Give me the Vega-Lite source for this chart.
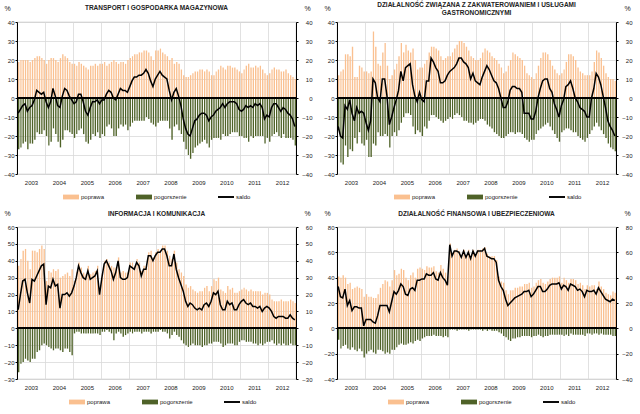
{
"$schema":"https://vega.github.io/schema/vega-lite/v6.json",
"padding":{"left":3,"top":1,"right":3,"bottom":3},
"config":{"font":"Liberation Sans","view":{"stroke":"#a6a6a6","strokeWidth":0.8},"title":{"fontSize":6.5,"fontWeight":"bold","color":"#222","anchor":"middle","lineHeight":8}},
"datasets":{
"t":[
{"d":"2003-01","p":19,"n":-27,"s":-8},{"d":"2003-02","p":20,"n":-26,"s":-6},{"d":"2003-03","p":20,"n":-24,"s":-4},{"d":"2003-04","p":20,"n":-23,"s":-3},{"d":"2003-05","p":20,"n":-27,"s":-7},{"d":"2003-06","p":19,"n":-24,"s":-5},{"d":"2003-07","p":20,"n":-24,"s":-4},{"d":"2003-08","p":21,"n":-22,"s":-1},{"d":"2003-09","p":22,"n":-18,"s":4},{"d":"2003-10","p":22,"n":-19,"s":3},{"d":"2003-11","p":21,"n":-19,"s":2},{"d":"2003-12","p":20,"n":-17,"s":3},
{"d":"2004-01","p":18,"n":-20,"s":-2},{"d":"2004-02","p":20,"n":-25,"s":-5},{"d":"2004-03","p":21,"n":-23,"s":-2},{"d":"2004-04","p":21,"n":-16,"s":5},{"d":"2004-05","p":20,"n":-19,"s":1},{"d":"2004-06","p":19,"n":-23,"s":-4},{"d":"2004-07","p":21,"n":-26,"s":-5},{"d":"2004-08","p":23,"n":-22,"s":1},{"d":"2004-09","p":22,"n":-17,"s":5},{"d":"2004-10","p":21,"n":-17,"s":4},{"d":"2004-11","p":19,"n":-18,"s":1},{"d":"2004-12","p":18,"n":-19,"s":-1},
{"d":"2005-01","p":18,"n":-21,"s":-3},{"d":"2005-02","p":17,"n":-19,"s":-2},{"d":"2005-03","p":19,"n":-17,"s":2},{"d":"2005-04","p":18,"n":-16,"s":2},{"d":"2005-05","p":17,"n":-19,"s":-2},{"d":"2005-06","p":16,"n":-23,"s":-7},{"d":"2005-07","p":15,"n":-24,"s":-9},{"d":"2005-08","p":17,"n":-22,"s":-5},{"d":"2005-09","p":17,"n":-19,"s":-2},{"d":"2005-10","p":18,"n":-20,"s":-2},{"d":"2005-11","p":17,"n":-18,"s":-1},{"d":"2005-12","p":18,"n":-21,"s":-3},
{"d":"2006-01","p":18,"n":-19,"s":-1},{"d":"2006-02","p":19,"n":-20,"s":-1},{"d":"2006-03","p":17,"n":-15,"s":2},{"d":"2006-04","p":18,"n":-14,"s":4},{"d":"2006-05","p":19,"n":-16,"s":3},{"d":"2006-06","p":20,"n":-20,"s":0},{"d":"2006-07","p":19,"n":-20,"s":-1},{"d":"2006-08","p":18,"n":-16,"s":2},{"d":"2006-09","p":19,"n":-14,"s":5},{"d":"2006-10","p":19,"n":-15,"s":4},{"d":"2006-11","p":18,"n":-14,"s":4},{"d":"2006-12","p":20,"n":-17,"s":3},
{"d":"2007-01","p":21,"n":-15,"s":6},{"d":"2007-02","p":22,"n":-13,"s":9},{"d":"2007-03","p":23,"n":-12,"s":11},{"d":"2007-04","p":23,"n":-12,"s":11},{"d":"2007-05","p":24,"n":-12,"s":12},{"d":"2007-06","p":24,"n":-12,"s":12},{"d":"2007-07","p":25,"n":-12,"s":13},{"d":"2007-08","p":25,"n":-10,"s":15},{"d":"2007-09","p":24,"n":-11,"s":13},{"d":"2007-10","p":22,"n":-13,"s":9},{"d":"2007-11","p":20,"n":-14,"s":6},{"d":"2007-12","p":25,"n":-15,"s":10},
{"d":"2008-01","p":25,"n":-13,"s":12},{"d":"2008-02","p":26,"n":-12,"s":14},{"d":"2008-03","p":24,"n":-12,"s":12},{"d":"2008-04","p":23,"n":-12,"s":11},{"d":"2008-05","p":22,"n":-12,"s":10},{"d":"2008-06","p":20,"n":-16,"s":4},{"d":"2008-07","p":21,"n":-22,"s":-1},{"d":"2008-08","p":18,"n":-15,"s":3},{"d":"2008-09","p":19,"n":-14,"s":5},{"d":"2008-10","p":18,"n":-17,"s":1},{"d":"2008-11","p":15,"n":-19,"s":-4},{"d":"2008-12","p":12,"n":-23,"s":-11},
{"d":"2009-01","p":11,"n":-27,"s":-16},{"d":"2009-02","p":11,"n":-30,"s":-19},{"d":"2009-03","p":12,"n":-32,"s":-20},{"d":"2009-04","p":13,"n":-29,"s":-16},{"d":"2009-05","p":14,"n":-26,"s":-12},{"d":"2009-06","p":14,"n":-25,"s":-11},{"d":"2009-07","p":15,"n":-24,"s":-9},{"d":"2009-08","p":15,"n":-23,"s":-8},{"d":"2009-09","p":14,"n":-22,"s":-8},{"d":"2009-10","p":15,"n":-24,"s":-9},{"d":"2009-11","p":14,"n":-26,"s":-12},{"d":"2009-12","p":12,"n":-22,"s":-10},
{"d":"2010-01","p":12,"n":-21,"s":-9},{"d":"2010-02","p":14,"n":-21,"s":-7},{"d":"2010-03","p":15,"n":-21,"s":-6},{"d":"2010-04","p":17,"n":-22,"s":-5},{"d":"2010-05","p":16,"n":-19,"s":-3},{"d":"2010-06","p":15,"n":-20,"s":-5},{"d":"2010-07","p":17,"n":-20,"s":-3},{"d":"2010-08","p":17,"n":-19,"s":-2},{"d":"2010-09","p":16,"n":-18,"s":-2},{"d":"2010-10","p":16,"n":-18,"s":-2},{"d":"2010-11","p":15,"n":-18,"s":-3},{"d":"2010-12","p":14,"n":-20,"s":-6},
{"d":"2011-01","p":13,"n":-20,"s":-7},{"d":"2011-02","p":15,"n":-21,"s":-6},{"d":"2011-03","p":17,"n":-21,"s":-4},{"d":"2011-04","p":18,"n":-23,"s":-5},{"d":"2011-05","p":16,"n":-20,"s":-4},{"d":"2011-06","p":16,"n":-21,"s":-5},{"d":"2011-07","p":17,"n":-20,"s":-3},{"d":"2011-08","p":16,"n":-20,"s":-4},{"d":"2011-09","p":17,"n":-20,"s":-3},{"d":"2011-10","p":15,"n":-20,"s":-5},{"d":"2011-11","p":13,"n":-24,"s":-11},{"d":"2011-12","p":12,"n":-21,"s":-9},
{"d":"2012-01","p":13,"n":-23,"s":-10},{"d":"2012-02","p":15,"n":-20,"s":-5},{"d":"2012-03","p":16,"n":-19,"s":-3},{"d":"2012-04","p":15,"n":-18,"s":-3},{"d":"2012-05","p":15,"n":-20,"s":-5},{"d":"2012-06","p":14,"n":-21,"s":-7},{"d":"2012-07","p":14,"n":-19,"s":-5},{"d":"2012-08","p":15,"n":-21,"s":-6},{"d":"2012-09","p":13,"n":-21,"s":-8},{"d":"2012-10","p":12,"n":-21,"s":-9},{"d":"2012-11","p":11,"n":-22,"s":-11},{"d":"2012-12","p":10,"n":-25,"s":-15}
],
"z":[
{"d":"2003-01","p":12,"n":-17,"s":-15},{"d":"2003-02","p":14,"n":-34,"s":-20},{"d":"2003-03","p":15,"n":-35,"s":-21},{"d":"2003-04","p":23,"n":-25,"s":-4},{"d":"2003-05","p":23,"n":-31,"s":-6},{"d":"2003-06","p":22,"n":-27,"s":-1},{"d":"2003-07","p":27,"n":-28,"s":-8},{"d":"2003-08","p":11,"n":-21,"s":-12},{"d":"2003-09","p":11,"n":-24,"s":-5},{"d":"2003-10","p":17,"n":-18,"s":-8},{"d":"2003-11","p":16,"n":-24,"s":-7},{"d":"2003-12","p":14,"n":-25,"s":-8},
{"d":"2004-01","p":14,"n":-22,"s":-13},{"d":"2004-02","p":13,"n":-31,"s":-17},{"d":"2004-03","p":14,"n":-31,"s":-12},{"d":"2004-04","p":35,"n":-24,"s":10},{"d":"2004-05","p":27,"n":-25,"s":8},{"d":"2004-06","p":18,"n":-18,"s":0},{"d":"2004-07","p":17,"n":-20,"s":-2},{"d":"2004-08","p":24,"n":-20,"s":10},{"d":"2004-09","p":29,"n":-19,"s":10},{"d":"2004-10","p":17,"n":-20,"s":1},{"d":"2004-11","p":10,"n":-26,"s":-14},{"d":"2004-12","p":12,"n":-20,"s":-10},
{"d":"2005-01","p":15,"n":-18,"s":-5},{"d":"2005-02","p":18,"n":-20,"s":-1},{"d":"2005-03","p":22,"n":-17,"s":4},{"d":"2005-04","p":29,"n":-13,"s":14},{"d":"2005-05","p":24,"n":-10,"s":9},{"d":"2005-06","p":28,"n":-8,"s":16},{"d":"2005-07","p":25,"n":-8,"s":17},{"d":"2005-08","p":24,"n":-9,"s":18},{"d":"2005-09","p":26,"n":-15,"s":7},{"d":"2005-10","p":20,"n":-19,"s":1},{"d":"2005-11","p":15,"n":-17,"s":-2},{"d":"2005-12","p":16,"n":-18,"s":3},
{"d":"2006-01","p":16,"n":-20,"s":-1},{"d":"2006-02","p":18,"n":-15,"s":-2},{"d":"2006-03","p":20,"n":-16,"s":9},{"d":"2006-04","p":24,"n":-12,"s":9},{"d":"2006-05","p":27,"n":-9,"s":21},{"d":"2006-06","p":27,"n":-9,"s":19},{"d":"2006-07","p":26,"n":-10,"s":16},{"d":"2006-08","p":25,"n":-11,"s":14},{"d":"2006-09","p":22,"n":-12,"s":8},{"d":"2006-10","p":20,"n":-13,"s":8},{"d":"2006-11","p":21,"n":-12,"s":9},{"d":"2006-12","p":22,"n":-11,"s":12},
{"d":"2007-01","p":22,"n":-10,"s":14},{"d":"2007-02","p":24,"n":-11,"s":15},{"d":"2007-03","p":26,"n":-9,"s":16},{"d":"2007-04","p":28,"n":-8,"s":18},{"d":"2007-05","p":30,"n":-9,"s":21},{"d":"2007-06","p":30,"n":-10,"s":21},{"d":"2007-07","p":29,"n":-12,"s":19},{"d":"2007-08","p":27,"n":-12,"s":18},{"d":"2007-09","p":25,"n":-13,"s":16},{"d":"2007-10","p":22,"n":-13,"s":10},{"d":"2007-11","p":21,"n":-14,"s":13},{"d":"2007-12","p":20,"n":-13,"s":9},
{"d":"2008-01","p":20,"n":-12,"s":8},{"d":"2008-02","p":21,"n":-11,"s":7},{"d":"2008-03","p":24,"n":-11,"s":11},{"d":"2008-04","p":26,"n":-12,"s":14},{"d":"2008-05","p":25,"n":-14,"s":17},{"d":"2008-06","p":24,"n":-15,"s":15},{"d":"2008-07","p":22,"n":-16,"s":12},{"d":"2008-08","p":21,"n":-18,"s":9},{"d":"2008-09","p":20,"n":-19,"s":8},{"d":"2008-10","p":18,"n":-20,"s":5},{"d":"2008-11","p":16,"n":-21,"s":0},{"d":"2008-12","p":13,"n":-21,"s":-5},
{"d":"2009-01","p":14,"n":-20,"s":-5},{"d":"2009-02","p":17,"n":-19,"s":-2},{"d":"2009-03","p":20,"n":-18,"s":4},{"d":"2009-04","p":24,"n":-18,"s":6},{"d":"2009-05","p":23,"n":-19,"s":6},{"d":"2009-06","p":22,"n":-18,"s":5},{"d":"2009-07","p":21,"n":-18,"s":5},{"d":"2009-08","p":20,"n":-19,"s":3},{"d":"2009-09","p":17,"n":-21,"s":-8},{"d":"2009-10","p":13,"n":-22,"s":-8},{"d":"2009-11","p":12,"n":-23,"s":-8},{"d":"2009-12","p":11,"n":-22,"s":-11},
{"d":"2010-01","p":10,"n":-22,"s":-11},{"d":"2010-02","p":13,"n":-19,"s":-7},{"d":"2010-03","p":17,"n":-17,"s":0},{"d":"2010-04","p":21,"n":-16,"s":5},{"d":"2010-05","p":24,"n":-15,"s":9},{"d":"2010-06","p":24,"n":-14,"s":10},{"d":"2010-07","p":23,"n":-13,"s":10},{"d":"2010-08","p":20,"n":-15,"s":5},{"d":"2010-09","p":17,"n":-17,"s":3},{"d":"2010-10","p":15,"n":-19,"s":-3},{"d":"2010-11","p":13,"n":-21,"s":-6},{"d":"2010-12","p":12,"n":-23,"s":-10},
{"d":"2011-01","p":13,"n":-18,"s":-4},{"d":"2011-02","p":15,"n":-17,"s":-1},{"d":"2011-03","p":19,"n":-16,"s":6},{"d":"2011-04","p":23,"n":-16,"s":7},{"d":"2011-05","p":23,"n":-17,"s":9},{"d":"2011-06","p":22,"n":-18,"s":5},{"d":"2011-07","p":20,"n":-18,"s":0},{"d":"2011-08","p":16,"n":-20,"s":-2},{"d":"2011-09","p":14,"n":-21,"s":-5},{"d":"2011-10","p":13,"n":-22,"s":-6},{"d":"2011-11","p":12,"n":-23,"s":-7},{"d":"2011-12","p":12,"n":-21,"s":-10},
{"d":"2012-01","p":12,"n":-19,"s":-10},{"d":"2012-02","p":14,"n":-17,"s":0},{"d":"2012-03","p":19,"n":-15,"s":5},{"d":"2012-04","p":25,"n":-13,"s":13},{"d":"2012-05","p":24,"n":-15,"s":11},{"d":"2012-06","p":21,"n":-17,"s":7},{"d":"2012-07","p":17,"n":-19,"s":1},{"d":"2012-08","p":13,"n":-21,"s":-5},{"d":"2012-09","p":11,"n":-24,"s":-12},{"d":"2012-10","p":10,"n":-26,"s":-15},{"d":"2012-11","p":10,"n":-27,"s":-17},{"d":"2012-12","p":9,"n":-28,"s":-20}
],
"i":[
{"d":"2003-01","p":37,"n":-26,"s":11},{"d":"2003-02","p":41,"n":-21,"s":20},{"d":"2003-03","p":46,"n":-20,"s":28},{"d":"2003-04","p":47,"n":-18,"s":29},{"d":"2003-05","p":40,"n":-19,"s":21},{"d":"2003-06","p":35,"n":-20,"s":15},{"d":"2003-07","p":46,"n":-18,"s":29},{"d":"2003-08","p":46,"n":-18,"s":28},{"d":"2003-09","p":45,"n":-14,"s":31},{"d":"2003-10","p":47,"n":-13,"s":34},{"d":"2003-11","p":49,"n":-10,"s":37},{"d":"2003-12","p":47,"n":-9,"s":38},
{"d":"2004-01","p":28,"n":-10,"s":14},{"d":"2004-02","p":34,"n":-11,"s":25},{"d":"2004-03","p":33,"n":-12,"s":24},{"d":"2004-04","p":35,"n":-13,"s":29},{"d":"2004-05","p":34,"n":-12,"s":25},{"d":"2004-06","p":35,"n":-12,"s":26},{"d":"2004-07","p":30,"n":-13,"s":12},{"d":"2004-08","p":31,"n":-14,"s":20},{"d":"2004-09","p":32,"n":-12,"s":20},{"d":"2004-10","p":33,"n":-12,"s":21},{"d":"2004-11","p":31,"n":-14,"s":19},{"d":"2004-12","p":35,"n":-16,"s":21},
{"d":"2005-01","p":28,"n":-3,"s":25},{"d":"2005-02","p":33,"n":-2,"s":30},{"d":"2005-03","p":39,"n":-2,"s":37},{"d":"2005-04","p":36,"n":-3,"s":33},{"d":"2005-05","p":33,"n":-3,"s":30},{"d":"2005-06","p":32,"n":-3,"s":29},{"d":"2005-07","p":37,"n":-3,"s":34},{"d":"2005-08","p":32,"n":-3,"s":29},{"d":"2005-09","p":33,"n":-3,"s":30},{"d":"2005-10","p":34,"n":-3,"s":31},{"d":"2005-11","p":37,"n":-3,"s":34},{"d":"2005-12","p":24,"n":-4,"s":20},
{"d":"2006-01","p":32,"n":-2,"s":30},{"d":"2006-02","p":40,"n":-2,"s":38},{"d":"2006-03","p":41,"n":-1,"s":40},{"d":"2006-04","p":39,"n":-2,"s":37},{"d":"2006-05","p":37,"n":-3,"s":34},{"d":"2006-06","p":36,"n":-7,"s":29},{"d":"2006-07","p":36,"n":-3,"s":33},{"d":"2006-08","p":42,"n":-2,"s":40},{"d":"2006-09","p":33,"n":-3,"s":30},{"d":"2006-10","p":34,"n":-5,"s":29},{"d":"2006-11","p":33,"n":-4,"s":29},{"d":"2006-12","p":33,"n":-3,"s":30},
{"d":"2007-01","p":39,"n":-2,"s":37},{"d":"2007-02","p":39,"n":-3,"s":36},{"d":"2007-03","p":37,"n":-2,"s":35},{"d":"2007-04","p":41,"n":-2,"s":39},{"d":"2007-05","p":39,"n":-2,"s":37},{"d":"2007-06","p":34,"n":-3,"s":31},{"d":"2007-07","p":37,"n":-2,"s":35},{"d":"2007-08","p":37,"n":-2,"s":35},{"d":"2007-09","p":45,"n":-2,"s":43},{"d":"2007-10","p":46,"n":-3,"s":43},{"d":"2007-11","p":42,"n":-2,"s":40},{"d":"2007-12","p":45,"n":-2,"s":43},
{"d":"2008-01","p":47,"n":-2,"s":45},{"d":"2008-02","p":46,"n":-1,"s":45},{"d":"2008-03","p":49,"n":-2,"s":47},{"d":"2008-04","p":49,"n":-2,"s":47},{"d":"2008-05","p":46,"n":-3,"s":43},{"d":"2008-06","p":43,"n":-6,"s":37},{"d":"2008-07","p":41,"n":-4,"s":37},{"d":"2008-08","p":46,"n":-2,"s":44},{"d":"2008-09","p":39,"n":-4,"s":35},{"d":"2008-10","p":35,"n":-5,"s":30},{"d":"2008-11","p":33,"n":-7,"s":26},{"d":"2008-12","p":31,"n":-9,"s":22},
{"d":"2009-01","p":26,"n":-10,"s":16},{"d":"2009-02","p":24,"n":-11,"s":13},{"d":"2009-03","p":25,"n":-10,"s":15},{"d":"2009-04","p":23,"n":-9,"s":14},{"d":"2009-05","p":22,"n":-10,"s":12},{"d":"2009-06","p":21,"n":-10,"s":11},{"d":"2009-07","p":22,"n":-10,"s":12},{"d":"2009-08","p":22,"n":-11,"s":11},{"d":"2009-09","p":24,"n":-10,"s":14},{"d":"2009-10","p":25,"n":-10,"s":15},{"d":"2009-11","p":22,"n":-9,"s":13},{"d":"2009-12","p":25,"n":-9,"s":16},
{"d":"2010-01","p":29,"n":-8,"s":21},{"d":"2010-02","p":28,"n":-8,"s":20},{"d":"2010-03","p":30,"n":-8,"s":22},{"d":"2010-04","p":23,"n":-9,"s":14},{"d":"2010-05","p":22,"n":-11,"s":11},{"d":"2010-06","p":21,"n":-10,"s":11},{"d":"2010-07","p":25,"n":-9,"s":16},{"d":"2010-08","p":23,"n":-9,"s":14},{"d":"2010-09","p":24,"n":-9,"s":15},{"d":"2010-10","p":21,"n":-10,"s":11},{"d":"2010-11","p":21,"n":-10,"s":11},{"d":"2010-12","p":22,"n":-8,"s":14},
{"d":"2011-01","p":23,"n":-7,"s":16},{"d":"2011-02","p":24,"n":-7,"s":17},{"d":"2011-03","p":23,"n":-8,"s":15},{"d":"2011-04","p":22,"n":-8,"s":14},{"d":"2011-05","p":23,"n":-8,"s":15},{"d":"2011-06","p":22,"n":-9,"s":13},{"d":"2011-07","p":22,"n":-9,"s":13},{"d":"2011-08","p":22,"n":-10,"s":12},{"d":"2011-09","p":22,"n":-9,"s":13},{"d":"2011-10","p":20,"n":-10,"s":10},{"d":"2011-11","p":21,"n":-9,"s":12},{"d":"2011-12","p":21,"n":-8,"s":13},
{"d":"2012-01","p":20,"n":-8,"s":12},{"d":"2012-02","p":17,"n":-7,"s":10},{"d":"2012-03","p":16,"n":-9,"s":7},{"d":"2012-04","p":16,"n":-10,"s":6},{"d":"2012-05","p":16,"n":-9,"s":7},{"d":"2012-06","p":17,"n":-10,"s":7},{"d":"2012-07","p":16,"n":-9,"s":7},{"d":"2012-08","p":16,"n":-10,"s":6},{"d":"2012-09","p":16,"n":-10,"s":6},{"d":"2012-10","p":17,"n":-9,"s":8},{"d":"2012-11","p":16,"n":-10,"s":6},{"d":"2012-12","p":15,"n":-10,"s":5}
],
"f":[
{"d":"2003-01","p":41,"n":-9,"s":33},{"d":"2003-02","p":40,"n":-16,"s":25},{"d":"2003-03","p":42,"n":-14,"s":24},{"d":"2003-04","p":40,"n":-13,"s":31},{"d":"2003-05","p":35,"n":-16,"s":18},{"d":"2003-06","p":36,"n":-17,"s":22},{"d":"2003-07","p":31,"n":-15,"s":14},{"d":"2003-08","p":32,"n":-17,"s":17},{"d":"2003-09","p":33,"n":-18,"s":17},{"d":"2003-10","p":32,"n":-16,"s":16},{"d":"2003-11","p":31,"n":-18,"s":16},{"d":"2003-12","p":25,"n":-23,"s":2},
{"d":"2004-01","p":27,"n":-20,"s":7},{"d":"2004-02","p":25,"n":-18,"s":7},{"d":"2004-03","p":25,"n":-17,"s":7},{"d":"2004-04","p":24,"n":-19,"s":5},{"d":"2004-05","p":24,"n":-20,"s":4},{"d":"2004-06","p":27,"n":-17,"s":10},{"d":"2004-07","p":32,"n":-17,"s":18},{"d":"2004-08","p":35,"n":-18,"s":18},{"d":"2004-09","p":38,"n":-20,"s":18},{"d":"2004-10","p":37,"n":-19,"s":18},{"d":"2004-11","p":33,"n":-20,"s":13},{"d":"2004-12","p":38,"n":-17,"s":21},
{"d":"2005-01","p":46,"n":-17,"s":29},{"d":"2005-02","p":42,"n":-15,"s":27},{"d":"2005-03","p":43,"n":-13,"s":30},{"d":"2005-04","p":47,"n":-12,"s":35},{"d":"2005-05","p":46,"n":-13,"s":33},{"d":"2005-06","p":40,"n":-13,"s":27},{"d":"2005-07","p":38,"n":-12,"s":26},{"d":"2005-08","p":42,"n":-11,"s":31},{"d":"2005-09","p":44,"n":-12,"s":32},{"d":"2005-10","p":40,"n":-10,"s":30},{"d":"2005-11","p":47,"n":-9,"s":38},{"d":"2005-12","p":48,"n":-10,"s":38},
{"d":"2006-01","p":47,"n":-8,"s":39},{"d":"2006-02","p":46,"n":-7,"s":39},{"d":"2006-03","p":49,"n":-6,"s":43},{"d":"2006-04","p":48,"n":-6,"s":42},{"d":"2006-05","p":48,"n":-6,"s":42},{"d":"2006-06","p":49,"n":-5,"s":44},{"d":"2006-07","p":45,"n":-6,"s":39},{"d":"2006-08","p":44,"n":-6,"s":38},{"d":"2006-09","p":50,"n":-6,"s":44},{"d":"2006-10","p":47,"n":-7,"s":40},{"d":"2006-11","p":44,"n":-6,"s":38},{"d":"2006-12","p":41,"n":-7,"s":34},
{"d":"2007-01","p":67,"n":-1,"s":66},{"d":"2007-02","p":58,"n":-1,"s":57},{"d":"2007-03","p":62,"n":-1,"s":61},{"d":"2007-04","p":63,"n":-2,"s":61},{"d":"2007-05","p":61,"n":-1,"s":60},{"d":"2007-06","p":57,"n":-1,"s":56},{"d":"2007-07","p":62,"n":-1,"s":61},{"d":"2007-08","p":57,"n":-1,"s":56},{"d":"2007-09","p":62,"n":-2,"s":60},{"d":"2007-10","p":56,"n":-1,"s":55},{"d":"2007-11","p":62,"n":-1,"s":61},{"d":"2007-12","p":58,"n":-1,"s":57},
{"d":"2008-01","p":62,"n":-1,"s":61},{"d":"2008-02","p":62,"n":-1,"s":61},{"d":"2008-03","p":63,"n":-2,"s":61},{"d":"2008-04","p":64,"n":-1,"s":63},{"d":"2008-05","p":59,"n":-2,"s":57},{"d":"2008-06","p":57,"n":-1,"s":56},{"d":"2008-07","p":57,"n":-2,"s":55},{"d":"2008-08","p":57,"n":-2,"s":55},{"d":"2008-09","p":54,"n":-2,"s":52},{"d":"2008-10","p":41,"n":-3,"s":38},{"d":"2008-11","p":37,"n":-4,"s":33},{"d":"2008-12","p":36,"n":-6,"s":30},
{"d":"2009-01","p":30,"n":-7,"s":23},{"d":"2009-02","p":27,"n":-9,"s":18},{"d":"2009-03","p":30,"n":-10,"s":20},{"d":"2009-04","p":30,"n":-8,"s":22},{"d":"2009-05","p":32,"n":-8,"s":24},{"d":"2009-06","p":32,"n":-7,"s":25},{"d":"2009-07","p":33,"n":-7,"s":26},{"d":"2009-08","p":33,"n":-6,"s":27},{"d":"2009-09","p":35,"n":-6,"s":29},{"d":"2009-10","p":35,"n":-6,"s":29},{"d":"2009-11","p":36,"n":-6,"s":30},{"d":"2009-12","p":32,"n":-7,"s":25},
{"d":"2010-01","p":33,"n":-6,"s":27},{"d":"2010-02","p":36,"n":-6,"s":30},{"d":"2010-03","p":38,"n":-5,"s":33},{"d":"2010-04","p":39,"n":-6,"s":33},{"d":"2010-05","p":36,"n":-7,"s":29},{"d":"2010-06","p":35,"n":-6,"s":29},{"d":"2010-07","p":37,"n":-6,"s":31},{"d":"2010-08","p":39,"n":-5,"s":34},{"d":"2010-09","p":40,"n":-5,"s":35},{"d":"2010-10","p":40,"n":-5,"s":35},{"d":"2010-11","p":40,"n":-5,"s":35},{"d":"2010-12","p":41,"n":-5,"s":36},
{"d":"2011-01","p":36,"n":-5,"s":31},{"d":"2011-02","p":40,"n":-6,"s":34},{"d":"2011-03","p":38,"n":-5,"s":33},{"d":"2011-04","p":36,"n":-6,"s":30},{"d":"2011-05","p":39,"n":-4,"s":35},{"d":"2011-06","p":39,"n":-5,"s":34},{"d":"2011-07","p":38,"n":-5,"s":33},{"d":"2011-08","p":35,"n":-5,"s":30},{"d":"2011-09","p":36,"n":-5,"s":31},{"d":"2011-10","p":34,"n":-5,"s":29},{"d":"2011-11","p":31,"n":-6,"s":25},{"d":"2011-12","p":34,"n":-4,"s":30},
{"d":"2012-01","p":33,"n":-4,"s":29},{"d":"2012-02","p":34,"n":-5,"s":29},{"d":"2012-03","p":34,"n":-4,"s":30},{"d":"2012-04","p":31,"n":-4,"s":27},{"d":"2012-05","p":37,"n":-5,"s":32},{"d":"2012-06","p":33,"n":-4,"s":29},{"d":"2012-07","p":31,"n":-5,"s":26},{"d":"2012-08","p":28,"n":-5,"s":23},{"d":"2012-09","p":27,"n":-5,"s":22},{"d":"2012-10","p":26,"n":-5,"s":21},{"d":"2012-11","p":29,"n":-6,"s":23},{"d":"2012-12","p":28,"n":-6,"s":22}
]
},
"columns":2,
"spacing":{"row":53,"column":41},
"bounds":"flush",
"resolve":{"scale":{"color":"independent"},"legend":{"color":"independent"}},
"concat":[
{"title":{"text":"TRANSPORT I GOSPODARKA MAGAZYNOWA","offset":-7.5},"width":279,"height":152,"data":{"name":"t"},
"layer":[
{"mark":{"type":"bar","timeUnitBandSize":0.75},"encoding":{
"x":{"field":"d","timeUnit":"utcyearmonth","type":"temporal","title":null,"scale":{"domain":[{"year":2003,"month":1,"date":1,"utc":true},{"year":2013,"month":1,"date":1,"utc":true}]},"axis":{"tickCount":{"interval":"year","step":1},"labelExpr":"utcyear(datum.value) > 2012 ? '' : utcFormat(datum.value, '%Y')","labelOffset":14,"labelFlush":false,"labelOverlap":false,"labelFontSize":6,"labelColor":"#222","labelPadding":5,"grid":true,"gridColor":"#d9d9d9","gridWidth":0.8,"ticks":false,"domain":false}},
"y":{"field":"p","type":"quantitative","scale":{"domain":[-40,40],"nice":false},"axis":{"title":"%","titleAngle":0,"titleX":-10,"titleY":-14,"titleAlign":"center","titleBaseline":"middle","titleFontSize":7,"titleFontWeight":"normal","titleColor":"#222","values":[-40,-30,-20,-10,0,10,20,30,40],"labelFontSize":6,"labelColor":"#222","tickSize":2,"labelPadding":1,"domainColor":"#000","tickColor":"#000","grid":true,"gridColor":"#d9d9d9","gridWidth":0.8}},
"color":{"datum":"poprawa","type":"nominal","scale":{"domain":["poprawa","pogorszenie","saldo"],"range":["#FAC090","#4F6228","#000000"]},"legend":{"orient":"none","legendX":46,"legendY":167,"direction":"horizontal","title":null,"labelFontSize":6,"labelColor":"#222","symbolSize":256,"columnPadding":31,"labelOffset":2,"encode":{"symbols":{"update":{"shape":{"signal":"datum.value === 'saldo' ? 'M-1,-0.12L1,-0.12L1,0.12L-1,0.12Z' : 'M-1,-0.3L1,-0.3L1,0.3L-1,0.3Z'"},"fill":{"signal":"datum.value === 'poprawa' ? '#FAC090' : datum.value === 'pogorszenie' ? '#4F6228' : '#000000'"},"strokeWidth":{"value":0},"opacity":{"value":1}}}}}}}},
{"mark":{"type":"bar","timeUnitBandSize":0.75},"encoding":{"x":{"field":"d","timeUnit":"utcyearmonth","type":"temporal"},"y":{"field":"n","type":"quantitative","axis":null},"color":{"datum":"pogorszenie","type":"nominal"}}},
{"mark":{"type":"rule","color":"#000","strokeWidth":1.5},"encoding":{"y":{"datum":0,"type":"quantitative","axis":null}}},
{"mark":{"type":"line","strokeWidth":1.5},"encoding":{"x":{"field":"d","timeUnit":"utcyearmonth","type":"temporal","bandPosition":0.5},"y":{"field":"s","type":"quantitative","axis":{"orient":"right","title":"%","titleAngle":0,"titleX":11,"titleY":-14,"titleAlign":"center","titleBaseline":"middle","titleFontSize":7,"titleFontWeight":"normal","titleColor":"#222","values":[-40,-30,-20,-10,0,10,20,30,40],"labelFontSize":6,"labelColor":"#222","tickSize":2,"labelPadding":14,"labelAlign":"right","domainColor":"#000","tickColor":"#000","grid":false}},"color":{"datum":"saldo","type":"nominal"}}}
],
"resolve":{"axis":{"y":"independent"}}},
{"title":{"text":["DZIAŁALNOŚĆ ZWIĄZANA Z ZAKWATEROWANIEM I USŁUGAMI","GASTRONOMICZNYMI"],"offset":-12},"width":279,"height":152,"data":{"name":"z"},
"layer":[
{"mark":{"type":"bar","timeUnitBandSize":0.75},"encoding":{
"x":{"field":"d","timeUnit":"utcyearmonth","type":"temporal","title":null,"scale":{"domain":[{"year":2003,"month":1,"date":1,"utc":true},{"year":2013,"month":1,"date":1,"utc":true}]},"axis":{"tickCount":{"interval":"year","step":1},"labelExpr":"utcyear(datum.value) > 2012 ? '' : utcFormat(datum.value, '%Y')","labelOffset":14,"labelFlush":false,"labelOverlap":false,"labelFontSize":6,"labelColor":"#222","labelPadding":5,"grid":true,"gridColor":"#d9d9d9","gridWidth":0.8,"ticks":false,"domain":false}},
"y":{"field":"p","type":"quantitative","scale":{"domain":[-40,40],"nice":false},"axis":{"title":"%","titleAngle":0,"titleX":-10,"titleY":-14,"titleAlign":"center","titleBaseline":"middle","titleFontSize":7,"titleFontWeight":"normal","titleColor":"#222","values":[-40,-30,-20,-10,0,10,20,30,40],"labelFontSize":6,"labelColor":"#222","tickSize":2,"labelPadding":1,"domainColor":"#000","tickColor":"#000","grid":true,"gridColor":"#d9d9d9","gridWidth":0.8}},
"color":{"datum":"poprawa","type":"nominal","scale":{"domain":["poprawa","pogorszenie","saldo"],"range":["#FAC090","#4F6228","#000000"]},"legend":{"orient":"none","legendX":57,"legendY":167,"direction":"horizontal","title":null,"labelFontSize":6,"labelColor":"#222","symbolSize":256,"columnPadding":31,"labelOffset":2,"encode":{"symbols":{"update":{"shape":{"signal":"datum.value === 'saldo' ? 'M-1,-0.12L1,-0.12L1,0.12L-1,0.12Z' : 'M-1,-0.3L1,-0.3L1,0.3L-1,0.3Z'"},"fill":{"signal":"datum.value === 'poprawa' ? '#FAC090' : datum.value === 'pogorszenie' ? '#4F6228' : '#000000'"},"strokeWidth":{"value":0},"opacity":{"value":1}}}}}}}},
{"mark":{"type":"bar","timeUnitBandSize":0.75},"encoding":{"x":{"field":"d","timeUnit":"utcyearmonth","type":"temporal"},"y":{"field":"n","type":"quantitative","axis":null},"color":{"datum":"pogorszenie","type":"nominal"}}},
{"mark":{"type":"rule","color":"#000","strokeWidth":1.5},"encoding":{"y":{"datum":0,"type":"quantitative","axis":null}}},
{"mark":{"type":"line","strokeWidth":1.5},"encoding":{"x":{"field":"d","timeUnit":"utcyearmonth","type":"temporal","bandPosition":0.5},"y":{"field":"s","type":"quantitative","axis":{"orient":"right","title":"%","titleAngle":0,"titleX":11,"titleY":-14,"titleAlign":"center","titleBaseline":"middle","titleFontSize":7,"titleFontWeight":"normal","titleColor":"#222","values":[-40,-30,-20,-10,0,10,20,30,40],"labelFontSize":6,"labelColor":"#222","tickSize":2,"labelPadding":14,"labelAlign":"right","domainColor":"#000","tickColor":"#000","grid":false}},"color":{"datum":"saldo","type":"nominal"}}}
],
"resolve":{"axis":{"y":"independent"}}},
{"title":{"text":"INFORMACJA I KOMUNIKACJA","offset":-8.5},"width":279,"height":152,"data":{"name":"i"},
"layer":[
{"mark":{"type":"bar","timeUnitBandSize":0.75},"encoding":{
"x":{"field":"d","timeUnit":"utcyearmonth","type":"temporal","title":null,"scale":{"domain":[{"year":2003,"month":1,"date":1,"utc":true},{"year":2013,"month":1,"date":1,"utc":true}]},"axis":{"tickCount":{"interval":"year","step":1},"labelExpr":"utcyear(datum.value) > 2012 ? '' : utcFormat(datum.value, '%Y')","labelOffset":14,"labelFlush":false,"labelOverlap":false,"labelFontSize":6,"labelColor":"#222","labelPadding":5,"grid":true,"gridColor":"#d9d9d9","gridWidth":0.8,"ticks":false,"domain":false}},
"y":{"field":"p","type":"quantitative","scale":{"domain":[-30,60],"nice":false},"axis":{"title":"%","titleAngle":0,"titleX":-10,"titleY":-14,"titleAlign":"center","titleBaseline":"middle","titleFontSize":7,"titleFontWeight":"normal","titleColor":"#222","values":[-30,-20,-10,0,10,20,30,40,50,60],"labelFontSize":6,"labelColor":"#222","tickSize":2,"labelPadding":1,"domainColor":"#000","tickColor":"#000","grid":true,"gridColor":"#d9d9d9","gridWidth":0.8}},
"color":{"datum":"poprawa","type":"nominal","scale":{"domain":["poprawa","pogorszenie","saldo"],"range":["#FAC090","#4F6228","#000000"]},"legend":{"orient":"none","legendX":52,"legendY":167,"direction":"horizontal","title":null,"labelFontSize":6,"labelColor":"#222","symbolSize":256,"columnPadding":31,"labelOffset":2,"encode":{"symbols":{"update":{"shape":{"signal":"datum.value === 'saldo' ? 'M-1,-0.12L1,-0.12L1,0.12L-1,0.12Z' : 'M-1,-0.3L1,-0.3L1,0.3L-1,0.3Z'"},"fill":{"signal":"datum.value === 'poprawa' ? '#FAC090' : datum.value === 'pogorszenie' ? '#4F6228' : '#000000'"},"strokeWidth":{"value":0},"opacity":{"value":1}}}}}}}},
{"mark":{"type":"bar","timeUnitBandSize":0.75},"encoding":{"x":{"field":"d","timeUnit":"utcyearmonth","type":"temporal"},"y":{"field":"n","type":"quantitative","axis":null},"color":{"datum":"pogorszenie","type":"nominal"}}},
{"mark":{"type":"rule","color":"#000","strokeWidth":1.5},"encoding":{"y":{"datum":0,"type":"quantitative","axis":null}}},
{"mark":{"type":"line","strokeWidth":1.5},"encoding":{"x":{"field":"d","timeUnit":"utcyearmonth","type":"temporal","bandPosition":0.5},"y":{"field":"s","type":"quantitative","axis":{"orient":"right","title":"%","titleAngle":0,"titleX":11,"titleY":-14,"titleAlign":"center","titleBaseline":"middle","titleFontSize":7,"titleFontWeight":"normal","titleColor":"#222","values":[-30,-20,-10,0,10,20,30,40,50,60],"labelFontSize":6,"labelColor":"#222","tickSize":2,"labelPadding":14,"labelAlign":"right","domainColor":"#000","tickColor":"#000","grid":false}},"color":{"datum":"saldo","type":"nominal"}}}
],
"resolve":{"axis":{"y":"independent"}}},
{"title":{"text":"DZIAŁALNOŚĆ FINANSOWA I UBEZPIECZENIOWA","offset":-8.5},"width":279,"height":152,"data":{"name":"f"},
"layer":[
{"mark":{"type":"bar","timeUnitBandSize":0.75},"encoding":{
"x":{"field":"d","timeUnit":"utcyearmonth","type":"temporal","title":null,"scale":{"domain":[{"year":2003,"month":1,"date":1,"utc":true},{"year":2013,"month":1,"date":1,"utc":true}]},"axis":{"tickCount":{"interval":"year","step":1},"labelExpr":"utcyear(datum.value) > 2012 ? '' : utcFormat(datum.value, '%Y')","labelOffset":14,"labelFlush":false,"labelOverlap":false,"labelFontSize":6,"labelColor":"#222","labelPadding":5,"grid":true,"gridColor":"#d9d9d9","gridWidth":0.8,"ticks":false,"domain":false}},
"y":{"field":"p","type":"quantitative","scale":{"domain":[-40,80],"nice":false},"axis":{"title":"%","titleAngle":0,"titleX":-10,"titleY":-14,"titleAlign":"center","titleBaseline":"middle","titleFontSize":7,"titleFontWeight":"normal","titleColor":"#222","values":[-40,-20,0,20,40,60,80],"labelFontSize":6,"labelColor":"#222","tickSize":2,"labelPadding":1,"domainColor":"#000","tickColor":"#000","grid":true,"gridColor":"#d9d9d9","gridWidth":0.8}},
"color":{"datum":"poprawa","type":"nominal","scale":{"domain":["poprawa","pogorszenie","saldo"],"range":["#FAC090","#4F6228","#000000"]},"legend":{"orient":"none","legendX":51,"legendY":167,"direction":"horizontal","title":null,"labelFontSize":6,"labelColor":"#222","symbolSize":256,"columnPadding":31,"labelOffset":2,"encode":{"symbols":{"update":{"shape":{"signal":"datum.value === 'saldo' ? 'M-1,-0.12L1,-0.12L1,0.12L-1,0.12Z' : 'M-1,-0.3L1,-0.3L1,0.3L-1,0.3Z'"},"fill":{"signal":"datum.value === 'poprawa' ? '#FAC090' : datum.value === 'pogorszenie' ? '#4F6228' : '#000000'"},"strokeWidth":{"value":0},"opacity":{"value":1}}}}}}}},
{"mark":{"type":"bar","timeUnitBandSize":0.75},"encoding":{"x":{"field":"d","timeUnit":"utcyearmonth","type":"temporal"},"y":{"field":"n","type":"quantitative","axis":null},"color":{"datum":"pogorszenie","type":"nominal"}}},
{"mark":{"type":"rule","color":"#000","strokeWidth":1.5},"encoding":{"y":{"datum":0,"type":"quantitative","axis":null}}},
{"mark":{"type":"line","strokeWidth":1.5},"encoding":{"x":{"field":"d","timeUnit":"utcyearmonth","type":"temporal","bandPosition":0.5},"y":{"field":"s","type":"quantitative","axis":{"orient":"right","title":"%","titleAngle":0,"titleX":11,"titleY":-14,"titleAlign":"center","titleBaseline":"middle","titleFontSize":7,"titleFontWeight":"normal","titleColor":"#222","values":[-40,-20,0,20,40,60,80],"labelFontSize":6,"labelColor":"#222","tickSize":2,"labelPadding":14,"labelAlign":"right","domainColor":"#000","tickColor":"#000","grid":false}},"color":{"datum":"saldo","type":"nominal"}}}
],
"resolve":{"axis":{"y":"independent"}}}
]
}
